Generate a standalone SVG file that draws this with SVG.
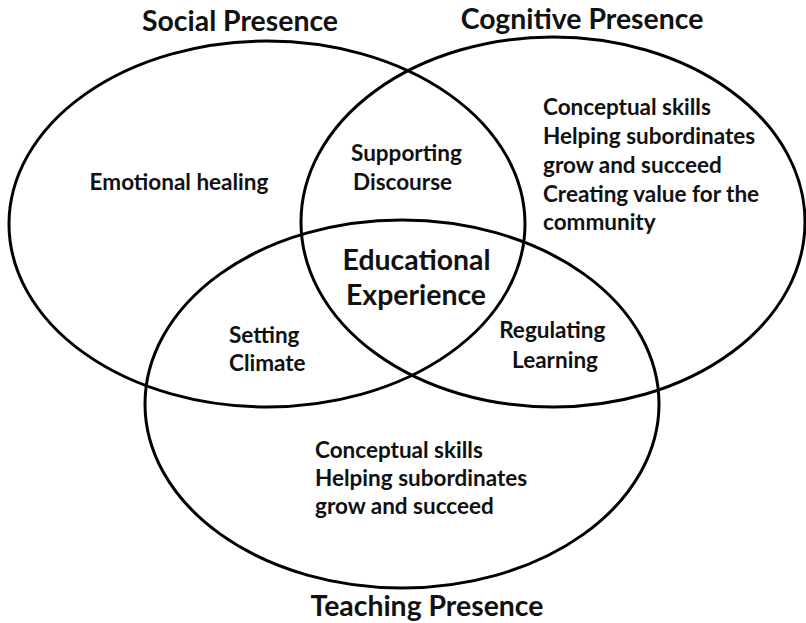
<svg xmlns="http://www.w3.org/2000/svg" width="806" height="623" viewBox="0 0 806 623">
  <style>
    .ring { fill: none; stroke: #000; stroke-width: 3; }
    .title { font-family: Lato, "Open Sans", "Liberation Sans", sans-serif; font-weight: 700; font-size: 28.4px; fill: #111; }
    .body { font-family: Lato, "Open Sans", "Liberation Sans", sans-serif; font-weight: 700; font-size: 22.5px; fill: #111; }
    .mid { text-anchor: middle; }
  </style>
  <rect width="806" height="623" fill="#fff"/>

  <!-- Social Presence circle -->
  <g id="social-presence">
    <ellipse class="ring" cx="267" cy="224" rx="258" ry="183"/>
    <text class="title mid" x="240" y="31">Social Presence</text>
    <text class="body mid" x="179" y="190">Emotional healing</text>
  </g>

  <!-- Cognitive Presence circle -->
  <g id="cognitive-presence">
    <ellipse class="ring" cx="553" cy="222" rx="252" ry="185"/>
    <text class="title mid" x="582" y="29">Cognitive Presence</text>
    <text class="body" x="543">
      <tspan x="543" y="115">Conceptual skills</tspan>
      <tspan x="543" y="144">Helping subordinates</tspan>
      <tspan x="543" y="173">grow and succeed</tspan>
      <tspan x="543" y="202">Creating value for the</tspan>
      <tspan x="543" y="230">community</tspan>
    </text>
  </g>

  <!-- Teaching Presence circle -->
  <g id="teaching-presence">
    <ellipse class="ring" cx="402" cy="404" rx="257" ry="184"/>
    <text class="title mid" x="427" y="616">Teaching Presence</text>
    <text class="body" x="315">
      <tspan x="315" y="458">Conceptual skills</tspan>
      <tspan x="315" y="486">Helping subordinates</tspan>
      <tspan x="315" y="514">grow and succeed</tspan>
    </text>
  </g>

  <!-- Overlap: social + cognitive -->
  <g id="supporting-discourse">
    <text class="body" x="351">
      <tspan x="351" y="161">Supporting</tspan>
      <tspan x="353" y="190">Discourse</tspan>
    </text>
  </g>

  <!-- Overlap: social + teaching -->
  <g id="setting-climate">
    <text class="body" x="229">
      <tspan x="229" y="343">Setting</tspan>
      <tspan x="229" y="371">Climate</tspan>
    </text>
  </g>

  <!-- Overlap: cognitive + teaching -->
  <g id="regulating-learning">
    <text class="body mid" x="555">
      <tspan x="555" y="338">Regulating</tspan>
      <tspan x="555" y="368">Learning</tspan>
    </text>
  </g>

  <!-- Centre: all three -->
  <g id="educational-experience">
    <text class="title mid" x="420">
      <tspan x="420" y="270">Educational</tspan>
      <tspan x="416" y="305">Experience</tspan>
    </text>
  </g>
</svg>
